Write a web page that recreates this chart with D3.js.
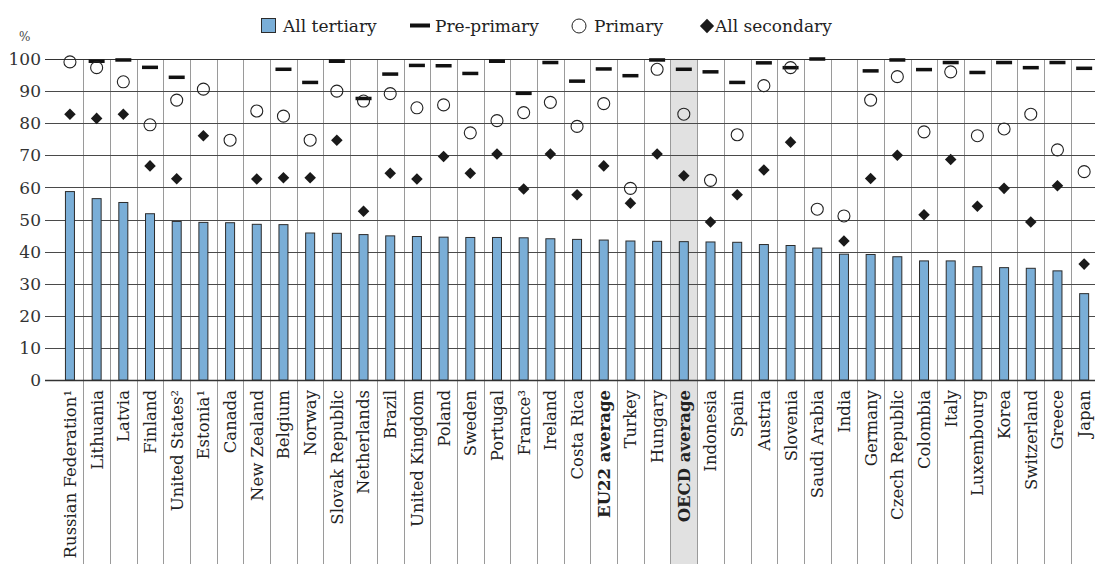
<!DOCTYPE html>
<html><head><meta charset="utf-8">
<script src="https://cdn.jsdelivr.net/npm/d3@7"></script>
<style>
html,body{margin:0;padding:0;background:#fff;}
svg text{font-family:"DejaVu Serif",serif;fill:#222;}
</style></head>
<body><svg id="c" width="1095" height="564"></svg>
<script>
const categories = ["Russian Federation¹","Lithuania","Latvia","Finland","United States²","Estonia¹","Canada","New Zealand","Belgium","Norway","Slovak Republic","Netherlands","Brazil","United Kingdom","Poland","Sweden","Portugal","France³","Ireland","Costa Rica","EU22 average","Turkey","Hungary","OECD average","Indonesia","Spain","Austria","Slovenia","Saudi Arabia","India","Germany","Czech Republic","Colombia","Italy","Luxembourg","Korea","Switzerland","Greece","Japan"];
const tertiary = [58.7,56.5,55.3,51.8,49.4,49.1,49.0,48.5,48.4,45.8,45.7,45.3,44.9,44.7,44.5,44.4,44.4,44.3,44.0,43.8,43.6,43.3,43.2,43.1,43.0,42.9,42.2,41.9,41.1,39.2,39.1,38.4,37.1,37.1,35.3,35.0,34.8,34.0,26.9];
const prePrimary = [null,99.3,99.7,97.4,94.3,null,null,null,96.8,92.7,99.3,87.7,95.3,98.0,97.9,95.5,99.3,89.3,98.9,93.1,96.9,94.8,99.7,96.8,96.0,92.7,98.8,97.3,100,null,96.3,99.7,96.7,98.9,95.8,98.9,97.3,98.9,97.1];
const primary = [99.1,97.3,92.9,79.5,87.2,90.6,74.7,83.8,82.2,74.7,90.0,86.9,89.2,84.8,85.7,77.0,80.8,83.3,86.5,79.0,86.1,59.7,96.8,82.8,62.2,76.4,91.7,97.3,53.2,51.1,87.2,94.5,77.3,96.0,76.1,78.2,82.8,71.7,64.9];
const secondary = [82.8,81.5,82.8,66.7,62.7,76.1,null,62.6,63.0,63.0,74.7,52.6,64.4,62.6,69.6,64.4,70.4,59.5,70.4,57.7,66.7,55.1,70.4,63.6,49.2,57.7,65.4,74.1,null,43.3,62.8,70.0,51.5,68.7,54.1,59.7,49.2,60.5,36.1];
const yTicks = [0,10,20,30,40,50,60,70,80,90,100];
const boldCats = ["EU22 average","OECD average"];
const highlightCat = "OECD average";
const legendItems = ["All tertiary","Pre-primary","Primary","All secondary"];

const svg = d3.select("#c");
const x = d3.scaleBand().domain(categories).range([56.6, 1097.5]).padding(0);
const y = d3.scaleLinear().domain([0,100]).range([380, 59]);
const gridLeft = 45, W = 1095, H = 564;

// highlight band
svg.append("rect").attr("x", x(highlightCat)).attr("y", y(100))
  .attr("width", x.bandwidth()).attr("height", H - y(100)).attr("fill", "#e1e1e1");

// vertical separators
svg.append("g").selectAll("line").data(categories.slice(1)).join("line")
  .attr("x1", d => Math.round(x(d)) + 0.5).attr("x2", d => Math.round(x(d)) + 0.5)
  .attr("y1", y(100)).attr("y2", H).attr("stroke", "#9a9a9a").attr("stroke-width", 1);

// horizontal gridlines
svg.append("g").selectAll("line").data(yTicks).join("line")
  .attr("x1", gridLeft).attr("x2", W)
  .attr("y1", d => Math.round(y(d)) + 0.5).attr("y2", d => Math.round(y(d)) + 0.5)
  .attr("stroke", d => d === 0 || d === 100 ? "#333" : "#4a4a4a").attr("stroke-width", d => d === 0 ? 1.3 : 1);

// y tick labels
svg.append("g").selectAll("text").data(yTicks).join("text")
  .attr("x", 41).attr("y", d => y(d)).attr("dy", "0.36em").attr("text-anchor", "end")
  .style("font-size", "17px").style("fill", "#333").text(d => d);
svg.append("text").attr("x", 19).attr("y", 41).style("font-size", "12px").style("fill", "#444").text("%");

const bw = 9;
// bars
svg.append("g").selectAll("rect").data(categories).join("rect")
  .attr("x", d => x(d) + x.bandwidth()/2 - bw/2).attr("width", bw)
  .attr("y", (d,i) => y(tertiary[i])).attr("height", (d,i) => y(0) - y(tertiary[i]))
  .attr("fill", "#7aaed7").attr("stroke", "#2c2c2c").attr("stroke-width", 1);

const cx = d => x(d) + x.bandwidth()/2;
// pre-primary dashes
svg.append("g").selectAll("rect").data(categories.filter((d,i) => prePrimary[i] != null)).join("rect")
  .attr("x", d => cx(d) - 8).attr("width", 16)
  .attr("y", d => y(prePrimary[categories.indexOf(d)]) - 1.75).attr("height", 3.5)
  .attr("fill", "#111");
// primary circles
svg.append("g").selectAll("circle").data(categories.filter((d,i) => primary[i] != null)).join("circle")
  .attr("cx", cx).attr("cy", d => y(primary[categories.indexOf(d)])).attr("r", 6)
  .attr("fill", "#fff").attr("fill-opacity", 0.0).attr("stroke", "#222").attr("stroke-width", 1.1);
// secondary diamonds
const sym = d3.symbol().type(d3.symbolDiamond2).size(85);
svg.append("g").selectAll("path").data(categories.filter((d,i) => secondary[i] != null)).join("path")
  .attr("transform", d => `translate(${cx(d)},${y(secondary[categories.indexOf(d)])})`)
  .attr("d", sym).attr("fill", "#1a1a1a");

// category labels
svg.append("g").selectAll("text").data(categories).join("text")
  .attr("transform", d => `translate(${cx(d)},${y(0) + 10}) rotate(-90)`)
  .attr("text-anchor", "end").attr("dy", "0.36em")
  .style("font-size", "16.5px")
  .style("font-weight", d => boldCats.includes(d) ? "bold" : "normal")
  .text(d => d);

// legend
const lg = svg.append("g");
lg.append("rect").attr("x", 261.5).attr("y", 18.5).attr("width", 14).attr("height", 14)
  .attr("fill", "#7aaed7").attr("stroke", "#2c2c2c");
lg.append("text").attr("x", 283).attr("y", 32).style("font-size", "17px").text(legendItems[0]);
lg.append("rect").attr("x", 410).attr("y", 23.5).attr("width", 20).attr("height", 4).attr("fill", "#111");
lg.append("text").attr("x", 435).attr("y", 32).style("font-size", "17px").text(legendItems[1]);
lg.append("circle").attr("cx", 579).attr("cy", 26).attr("r", 7).attr("fill", "none").attr("stroke", "#222");
lg.append("text").attr("x", 594).attr("y", 32).style("font-size", "17px").text(legendItems[2]);
lg.append("path").attr("transform", "translate(707,26)").attr("d", d3.symbol().type(d3.symbolDiamond2).size(130)).attr("fill", "#1a1a1a");
lg.append("text").attr("x", 715).attr("y", 32).style("font-size", "17px").text(legendItems[3]);
</script></body></html>
